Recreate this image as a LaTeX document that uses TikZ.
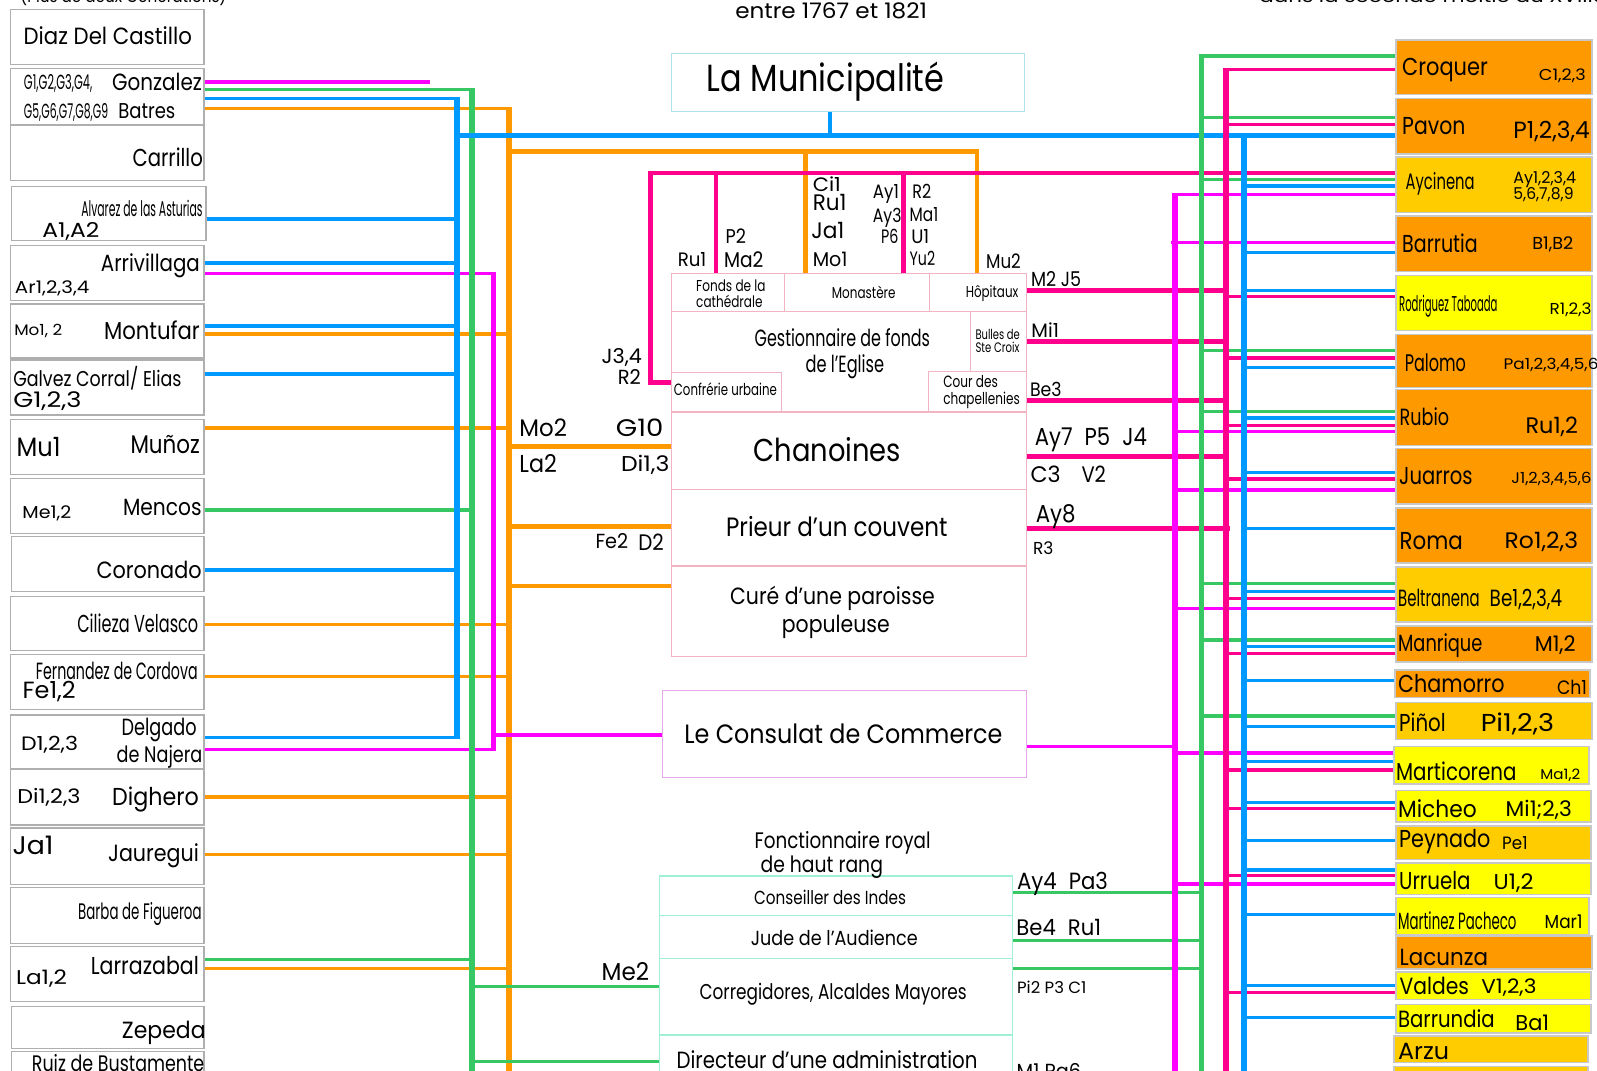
\documentclass[tikz,border=0pt]{standalone}
\usepackage{fontspec}
\setmainfont{Poppins}
\usepackage{graphicx}
\definecolor{cblue}{RGB}{0,153,255}
\definecolor{cgreen}{RGB}{55,200,100}
\definecolor{corange}{RGB}{255,153,0}
\definecolor{cmag}{RGB}{255,0,255}
\definecolor{cpink}{RGB}{255,0,140}
\definecolor{bor}{RGB}{255,153,0}
\definecolor{bgold}{RGB}{255,204,0}
\definecolor{byel}{RGB}{255,255,0}
\definecolor{lgray}{RGB}{175,175,175}
\definecolor{rgray}{RGB}{200,200,200}
\definecolor{pinkb}{RGB}{242,180,195}
\definecolor{cyanb}{RGB}{175,225,235}
\definecolor{mintb}{RGB}{160,240,215}
\definecolor{violb}{RGB}{230,170,235}
\newcommand\Tz[3]{\resizebox{#1pt}{\height}{\fontsize{#2}{#2}\selectfont #3}}
\newcommand\Lt[6]{\node[txt,anchor=base west] (#1) at (#2,#3) {\Tz{#4}{#5}{#6}};}
\newcommand\Rt[6]{\node[txt,anchor=base east] (#1) at (#2,#3) {\Tz{#4}{#5}{#6}};}
\newcommand\Ct[6]{\node[txt,anchor=base] (#1) at (#2,#3) {\Tz{#4}{#5}{#6}};}
\newcommand\Bx[6]{\node[#1,anchor=north west,minimum width={#4-#2},minimum height={#5-#3}] (#6) at (#2,#3) {};}
\newcommand\Hl[4]{\draw[#1] (#2,#4) -- (#3,#4);}
\newcommand\Vl[4]{\draw[#1] (#4,#2) -- (#4,#3);}
\tikzset{
  txt/.style={inner sep=0pt,outer sep=0pt,text=black},
  lb/.style={draw=lgray,line width=1.2pt,inner sep=0pt,outer sep=0pt},
  rb/.style={draw=rgray,line width=1.5pt,inner sep=0pt,outer sep=0pt},
  pb/.style={draw=pinkb,line width=1pt,inner sep=0pt,outer sep=0pt},
  cb/.style={draw=cyanb,line width=1pt,inner sep=0pt,outer sep=0pt},
  mb/.style={draw=mintb,line width=1.2pt,inner sep=0pt,outer sep=0pt},
  vb/.style={draw=violb,line width=1pt,inner sep=0pt,outer sep=0pt},
  th/.style={line width=3.2pt},
  md/.style={line width=4.5pt},
  tk/.style={line width=5.5pt},
}
\begin{document}
\begin{tikzpicture}[x=1pt,y=-1pt]
\useasboundingbox (0,0) rectangle (1566,1050);
\clip (0,0) rectangle (1566,1050);
\fill[white] (0,0) rectangle (1566,1050);

% ---------- left connectors ----------
\Hl{cmag,th}{200}{422}{80.4}
\Hl{cgreen,th}{200}{463}{87.5}
\Hl{cblue,th}{200}{448}{96.8}
\Hl{corange,th}{200}{499}{106.6}
\Hl{cblue,th}{202}{448}{214.7}
\Hl{cblue,th}{200}{448}{257.8}
\Hl{cmag,th}{200}{484}{268.3}
\Hl{cblue,th}{200}{448}{319.6}
\Hl{corange,th}{200}{499}{327.5}
\Hl{cblue,th}{200}{448}{366.7}
\Hl{corange,th}{200}{499}{419.6}
\Hl{cgreen,th}{200}{463}{500}
\Hl{cblue,th}{200}{448}{558.8}
\Hl{corange,th}{200}{499}{612.7}
\Hl{corange,th}{200}{499}{663.7}
\Hl{cblue,th}{200}{448}{723.2}
\Hl{cmag,th}{200}{484}{735.3}
\Hl{corange,th}{200}{499}{781.4}
\Hl{corange,th}{200}{499}{838.2}
\Hl{cgreen,th}{200}{463}{941}
\Hl{corange,th}{200}{499}{950}
\Vl{cblue,tk}{95.2}{724.8}{448}
\Vl{cgreen,tk}{85.9}{1060}{463}
\Vl{cmag,tk}{266.7}{736.9}{484}
\Vl{corange,tk}{105}{1060}{499}

% ---------- centre connectors ----------
\Hl{cblue,md}{448}{1369}{133}
\Vl{cblue,md}{109}{133}{814}
\Hl{corange,md}{499}{960.2}{148.7}
\Vl{corange,md}{146.5}{268}{790}
\Vl{corange,md}{146.5}{268}{958}
\Hl{cpink,md}{636}{1369}{169.6}
\draw[cpink,md] (638,167.4) -- (638,375) -- (658,375);
\Vl{cpink,md}{169.6}{268}{702}
\Vl{cpink,md}{169.6}{268}{886}
\Hl{corange,md}{499}{658}{438}
\Hl{corange,md}{499}{658}{516}
\Hl{corange,md}{499}{658}{574.5}
\Hl{cmag,th}{484}{650}{720.6}
\Hl{cmag,th}{1007}{1152}{732}
\Hl{cgreen,th}{463}{647}{967.3}
\Hl{cgreen,th}{463}{647}{1041}
\Hl{cgreen,th}{993}{1178}{875}
\Hl{cgreen,th}{993}{1178}{922}
\Hl{cgreen,th}{993}{1178}{950}
\Hl{cpink,md}{1007}{1202}{285}
\Hl{cpink,md}{1007}{1202}{335}
\Hl{cpink,md}{1007}{1202}{392.8}
\Hl{cpink,md}{1007}{1202}{447.7}
\Hl{cpink,md}{1007}{1206}{518}

% ---------- right connectors ----------
\foreach \y in {191,423,480.4,596.4,738.5,866.7} {\draw[cmag,th] (1152,\y) -- (1369,\y);}
\draw[cmag,th] (1148,238) -- (1369,238);
\foreach \y in {54.9,115.3,175.8,343.8,403.6,572.5,627.5,702} {\draw[cgreen,th] (1178,\y) -- (1369,\y);}
\foreach \y in {68,122.2,291,351,417,469.6,586.6,641,755,793,858.5,973} {\draw[cpink,th] (1202,\y) -- (1369,\y);}
\foreach \y in {182.4,247.4,285,360,410,463.4,518,580,634,667.6,712.4,746.7,787,824,853,897,966,997.7} {\draw[cblue,th] (1220,\y) -- (1369,\y);}
\Vl{cmag,tk}{189.4}{1060}{1152}
\Vl{cgreen,tk}{53.3}{1060}{1178}
\Vl{cpink,tk}{66.4}{1060}{1202}
\Vl{cblue,tk}{131}{1060}{1220}

% ---------- left boxes ----------
\Bx{lb}{10}{9}{200}{63}{bDiaz}
\Bx{lb}{10}{67}{200}{122}{bGon}
\Bx{lb}{10}{123}{200}{177}{bCar}
\Bx{lb}{11}{183}{202}{236}{bAlv}
\Bx{lb}{10}{241}{200}{295}{bArr}
\Bx{lb}{10}{298}{200}{351}{bMon}
\Bx{lb}{10}{353}{200}{407}{bGal}
\Bx{lb}{10}{411}{200}{465}{bMun}
\Bx{lb}{10}{469}{200}{523}{bMen}
\Bx{lb}{11}{526}{200}{580}{bCor}
\Bx{lb}{10}{585}{200}{638}{bCil}
\Bx{lb}{10}{642}{200}{696}{bFer}
\Bx{lb}{10}{701}{200}{754}{bDel}
\Bx{lb}{10}{754}{200}{809}{bDig}
\Bx{lb}{10}{812}{200}{867}{bJau}
\Bx{lb}{10}{870}{200}{925}{bBar}
\Bx{lb}{10}{928}{200}{982}{bLar}
\Bx{lb}{11}{987}{200}{1028}{bZep}
\Bx{lb}{11}{1031}{200}{1070}{bRuiz}

% ---------- centre boxes ----------
\Bx{cb}{658}{52}{1005}{109}{bMuni}
\Bx{pb}{658}{268}{769}{305}{bFonds}
\Bx{pb}{769}{268}{911}{305}{bMonast}
\Bx{pb}{911}{268}{1007}{305}{bHop}
\Bx{pb}{658}{305}{1007}{404}{bGest}
\Bx{pb}{952}{305}{1007}{364}{bBul}
\Bx{pb}{658}{365}{766}{404}{bConf}
\Bx{pb}{910}{364}{1007}{404}{bCour}
\Bx{pb}{658}{404}{1007}{480}{bChan}
\Bx{pb}{658}{480}{1007}{555}{bPri}
\Bx{pb}{658}{555}{1007}{644}{bCure}
\Bx{vb}{650}{677}{1007}{762}{bConsul}
\Bx{mb}{647}{859}{993}{898}{bConsI}
\Bx{mb}{647}{898}{993}{940}{bJude}
\Bx{mb}{647}{940}{993}{1015}{bCorr}
\Bx{mb}{647}{1015}{993}{1070}{bDir}

% ---------- right boxes ----------
\Bx{rb,fill=bor}{1369}{39}{1561}{92.5}{rbCro}
\Bx{rb,fill=bor}{1369}{96.4}{1561}{151}{rbPav}
\Bx{rb,fill=bgold}{1369}{154}{1561}{208.5}{rbAyc}
\Bx{rb,fill=bor}{1369}{212}{1561}{266}{rbBarr}
\Bx{rb,fill=byel}{1369}{270}{1561}{324}{rbRod}
\Bx{rb,fill=bor}{1369}{328}{1561}{380}{rbPal}
\Bx{rb,fill=bor}{1369}{382}{1561}{437}{rbRub}
\Bx{rb,fill=bor}{1369}{440}{1561}{494}{rbJua}
\Bx{rb,fill=bor}{1369}{498}{1561}{552}{rbRom}
\Bx{rb,fill=bgold}{1369}{556}{1561}{610}{rbBel}
\Bx{rb,fill=bor}{1369}{614}{1561}{649}{rbMan}
\Bx{rb,fill=bor}{1368}{657}{1559}{684}{rbCha}
\Bx{rb,fill=bgold}{1369}{689}{1561}{725}{rbPin}
\Bx{rb,fill=byel}{1367}{732}{1558}{769}{rbMart}
\Bx{rb,fill=byel}{1369}{775}{1560}{806}{rbMic}
\Bx{rb,fill=bgold}{1369}{810}{1560}{843}{rbPey}
\Bx{rb,fill=byel}{1369}{846}{1560}{877}{rbUrr}
\Bx{rb,fill=byel}{1369}{880}{1558}{917}{rbMtz}
\Bx{rb,fill=bor}{1369}{918}{1561}{950}{rbLac}
\Bx{rb,fill=byel}{1369}{953}{1560}{980}{rbVal}
\Bx{rb,fill=byel}{1369}{985}{1560}{1013}{rbBrd}
\Bx{rb,fill=bgold}{1367}{1016}{1557}{1042}{rbArz}
\Bx{rb,fill=bgold}{1367}{1046}{1557}{1070}{rbNext}

% ---------- top texts ----------
\Lt{tPlus}{20}{2}{202}{17}{(Plus de deux Générations)}
\Ct{tEntre}{815}{18}{188}{21}{entre 1767 et 1821}
\Lt{tDans}{1235}{2}{340}{17}{dans la seconde moitié du XVIIIe}

% ---------- left texts ----------
\Ct{tDiaz}{105.7}{44}{165}{23}{Diaz Del Castillo}
\Lt{tGa}{23.5}{88}{67}{20}{G1,G2,G3,G4,}
\Rt{tGon}{198}{89}{88}{23}{Gonzalez}
\Lt{tGb}{23.5}{116}{82.5}{20}{G5,G6,G7,G8,G9}
\Lt{tBat}{116}{116}{56}{21}{Batres}
\Rt{tCar}{199}{163}{69}{24}{Carrillo}
\Rt{tAlv}{198.7}{212}{119}{21}{Alvarez de las Asturias}
\Lt{tA}{41.5}{233}{56}{20}{A1,A2}
\Rt{tArr}{196}{266}{97}{23}{Arrivillaga}
\Lt{tAr}{14.7}{288}{73}{17}{Ar1,2,3,4}
\Lt{tMoa}{14}{329.4}{47}{15}{Mo1, 2}
\Rt{tMon}{196}{333}{94}{24}{Montufar}
\Lt{tGal}{13}{379}{165}{21}{Galvez Corral/ Elias}
\Lt{tGc}{13}{400}{67}{21}{G1,2,3}
\Lt{tMu}{16.3}{448}{43}{26}{Mu1}
\Rt{tMun}{196}{445}{68}{25}{Muñoz}
\Lt{tMe}{22}{508}{48}{17}{Me1,2}
\Rt{tMen}{197.7}{505}{77}{23}{Mencos}
\Rt{tCor}{197.7}{567}{103}{23}{Coronado}
\Rt{tCil}{194.4}{620}{118.6}{24}{Cilieza Velasco}
\Rt{tFer}{193.8}{666.7}{158.5}{23}{Fernandez de Cordova}
\Lt{tFe}{22.2}{685}{52}{23}{Fe1,2}
\Rt{tDel}{192.8}{721}{73.5}{23}{Delgado}
\Rt{tNaj}{198.4}{748}{84}{22}{de Najera}
\Lt{tD}{20.6}{736}{56}{19}{D1,2,3}
\Lt{tDi}{17}{788}{62}{19.5}{Di1,2,3}
\Rt{tDig}{195}{790}{85}{24}{Dighero}
\Lt{tJa}{12.4}{838}{40}{25}{Ja1}
\Rt{tJau}{195}{845}{89}{23}{Jauregui}
\Rt{tBar}{197.7}{902}{121}{22}{Barba de Figueroa}
\Lt{tLa}{15.7}{965}{50}{19.5}{La1,2}
\Rt{tLar}{195}{956}{106}{24}{Larrazabal}
\Rt{tZep}{201.6}{1018}{82}{23}{Zepeda}
\Rt{tRuiz}{200.3}{1051}{169}{22}{Ruiz de Bustamente}

% ---------- centre texts ----------
\Ct{tMuni}{809.5}{90}{233}{37}{La Municipalité}
\Lt{lCi}{797}{188}{27.6}{19}{Ci1}
\Lt{lRua}{797}{206.5}{33}{22}{Ru1}
\Lt{lJa}{795.5}{233.6}{32.5}{22}{Ja1}
\Lt{lMo}{797}{261.4}{34}{19.5}{Mo1}
\Lt{lAya}{856}{195}{25.5}{19}{Ay1}
\Lt{lAyc}{856}{218}{28}{19}{Ay3}
\Lt{lP}{864}{238.6}{17}{19}{P6}
\Lt{lRa}{894.6}{195}{18.5}{19}{R2}
\Lt{lMa}{892}{217}{28}{19}{Ma1}
\Lt{lU}{893.6}{238.6}{17.6}{19}{U1}
\Lt{lYu}{892}{260.8}{25}{19}{Yu2}
\Lt{lRub}{664.6}{261}{28}{19}{Ru1}
\Lt{lPb}{711.5}{238.6}{20}{19.5}{P2}
\Lt{lMab}{710}{262}{38.6}{21}{Ma2}
\Lt{lMu}{967}{263}{34}{19.5}{Mu2}
\Lt{cFonds}{682.7}{286}{68}{15.5}{Fonds de la}
\Lt{cCath}{682.7}{302}{65}{15.5}{cathédrale}
\Lt{cMon}{815.7}{292.5}{62.5}{15.5}{Monastère}
\Lt{cHop}{947}{292}{51.6}{15.5}{Hôpitaux}
\Lt{cGest}{740}{340}{172}{23}{Gestionnaire de fonds}
\Lt{cEgl}{790}{365}{77}{23}{de l’Eglise}
\Lt{cBul}{956.6}{333}{43.5}{13.5}{Bulles de}
\Lt{cSte}{956.6}{345.8}{43}{13.5}{Ste Croix}
\Lt{cCour}{925}{380}{53.5}{16}{Cour des}
\Lt{cChap}{925}{397}{75}{16}{chapellenies}
\Lt{cConf}{660.8}{388}{101}{16}{Confrérie urbaine}
\Lt{cChan}{738.8}{452.6}{144.7}{31}{Chanoines}
\Lt{cPri}{712}{526}{217}{26}{Prieur d’un couvent}
\Lt{cCure}{716}{593}{200.7}{23}{Curé d’une paroisse}
\Lt{cPop}{766.7}{620}{105.8}{23}{populeuse}
\Lt{lJ}{590}{356}{39.5}{20}{J3,4}
\Lt{lRb}{605.8}{377.5}{22.6}{20}{R2}
\Lt{lMob}{509.4}{428}{46.6}{23.5}{Mo2}
\Lt{lG}{604}{428}{46.6}{23.5}{G10}
\Lt{lLa}{509.4}{463.4}{36.7}{24}{La2}
\Lt{lDi}{609}{462}{47.5}{21}{Di1,3}
\Lt{lFe}{584}{537.6}{32}{20}{Fe2}
\Lt{lD}{626}{540}{25}{22}{D2}
\Lt{lMJ}{1011}{281}{49}{20}{M2 J5}
\Lt{lMi}{1011.4}{331}{27}{19}{Mi1}
\Lt{lBe}{1010}{389}{31}{19}{Be3}
\Lt{lAyg}{1014.7}{437}{110}{24}{Ay7\hspace{0.3em} P5\hspace{0.3em} J4}
\Lt{lC}{1010.5}{473}{29.5}{22}{C3}
\Lt{lV}{1060.5}{473}{24}{22}{V2}
\Lt{lAyh}{1015.7}{512}{39}{24}{Ay8}
\Lt{lRc}{1013}{544}{20}{17}{R3}
\Lt{tCons}{671}{729.4}{312}{26}{Le Consulat de Commerce}
\Lt{tFon}{740}{831.7}{172.5}{22}{Fonctionnaire royal}
\Lt{tHaut}{745.8}{856}{120}{22}{de haut rang}
\Lt{tConsI}{739.5}{887}{149}{18.5}{Conseiller des Indes}
\Lt{tJude}{736.3}{927.5}{163.6}{20}{Jude de l’Audience}
\Lt{tCorr}{686}{980.4}{262}{21}{Corregidores, Alcaldes Mayores}
\Lt{tDir}{663.5}{1047.4}{295}{23}{Directeur d’une administration}
\Lt{lMe}{590}{961.4}{46.6}{24}{Me2}
\Lt{lAyd}{997.4}{872}{89}{23}{Ay4\hspace{0.3em} Pa3}
\Lt{lBed}{996.7}{917}{83}{22}{Be4\hspace{0.3em} Ru1}
\Lt{lPi}{997.4}{974}{68}{16}{Pi2 P3 C1}
\Lt{lM}{997}{1058}{63}{20}{M1 Pa6}

% ---------- right texts ----------
\Lt{rCro}{1375}{74.5}{84}{24}{Croquer}
\Lt{rC}{1509}{79.4}{46}{15.5}{C1,2,3}
\Lt{rPav}{1375}{131.7}{62}{24}{Pavon}
\Lt{rP}{1484}{135.6}{75}{23}{P1,2,3,4}
\Lt{rAyc}{1378.4}{186}{67.6}{22}{Aycinena}
\Lt{rAya}{1484}{179.7}{61.6}{16}{Ay1,2,3,4}
\Lt{rAyb}{1484}{195.4}{59}{16}{5,6,7,8,9}
\Lt{rBarr}{1375}{247.7}{74}{24}{Barrutia}
\Lt{rB}{1502.6}{245}{40}{17}{B1,B2}
\Lt{rRod}{1372}{305}{96.4}{21}{Rodriguez Taboada}
\Lt{rR}{1519.6}{308}{41}{15.5}{R1,2,3}
\Lt{rPal}{1377.5}{364.4}{60}{23.5}{Palomo}
\Lt{rPa}{1474.5}{362}{93}{15}{Pa1,2,3,4,5,6}
\Lt{rRub}{1372.5}{417.6}{48.5}{23}{Rubio}
\Lt{rRu}{1496}{424.8}{51.4}{22}{Ru1,2}
\Lt{rJua}{1372}{475.5}{72}{24}{Juarros}
\Lt{rJ}{1482}{474.5}{78.5}{15}{J1,2,3,4,5,6}
\Lt{rRom}{1372.5}{539}{62}{24}{Roma}
\Lt{rRo}{1475.5}{537.6}{72}{22}{Ro1,2,3}
\Lt{rBel}{1371}{594.8}{80}{23}{Beltranena}
\Lt{rBe}{1460.8}{594.8}{71}{23}{Be1,2,3,4}
\Lt{rMan}{1371}{639}{82.6}{23}{Manrique}
\Lt{rM}{1505}{639}{40}{21}{M1,2}
\Lt{rCha}{1371}{678.8}{104.5}{24}{Chamorro}
\Lt{rCh}{1526.8}{680.7}{29.4}{19}{Ch1}
\Lt{rPin}{1372}{717.3}{45.7}{24}{Piñol}
\Lt{rPi}{1452}{717.3}{72}{24}{Pi1,2,3}
\Lt{rMart}{1369}{765.4}{118}{24}{Marticorena}
\Lt{rMa}{1510.5}{764}{39}{14}{Ma1,2}
\Lt{rMic}{1371}{802}{77}{23}{Micheo}
\Lt{rMi}{1476.5}{800.6}{65}{21}{Mi1;2,3}
\Lt{rPey}{1372}{831}{89.5}{24}{Peynado}
\Lt{rPe}{1473}{832.7}{25}{17.5}{Pe1}
\Lt{rUrr}{1372}{872.5}{70}{24}{Urruela}
\Lt{rU}{1464.7}{872}{39}{21}{U1,2}
\Lt{rMtz}{1371}{911.8}{116}{23}{Martinez Pacheco}
\Lt{rMar}{1514.7}{910}{37}{18.5}{Mar1}
\Lt{rLac}{1372.5}{947}{86.6}{23}{Lacunza}
\Lt{rVal}{1372.5}{975.5}{68}{23}{Valdes}
\Lt{rV}{1452.6}{974.5}{54}{19.5}{V1,2,3}
\Lt{rBrd}{1371}{1008}{94.7}{23}{Barrundia}
\Lt{rBa}{1486}{1010}{33}{21}{Ba1}
\Lt{rArz}{1371}{1038.5}{50}{23}{Arzu}
\end{tikzpicture}
\end{document}
